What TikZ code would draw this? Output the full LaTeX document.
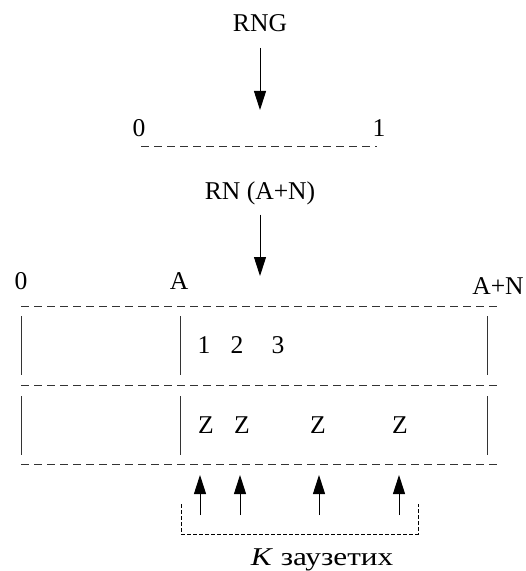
\documentclass[tikz,border=0pt]{standalone}
\usepackage{fontspec}
\setmainfont{Liberation Serif}
\usetikzlibrary{arrows.meta}
\tikzset{
	lbl/.style={font=\fontsize{12.8}{15}\selectfont, anchor=base, inner sep=0.3333em},
	arr/.style={-{Triangle[length=9.5pt,width=6pt]}, line width=0.5pt},
	dline/.style={line width=0.5pt, dash pattern=on 4pt off 2.5pt, black!80},
	bar/.style={line width=0.5pt, black!80},
	brace/.style={line width=0.4pt, dash pattern=on 2pt off 1pt}
}
\begin{document}
\begin{tikzpicture}[x=0.5pt,y=-0.5pt]
	\useasboundingbox (0,0) rectangle (525,571);
	% Zufallszahl zwischen 0 und 1
	\node [lbl] (rng) at (260,32) {RNG};
	\coordinate (hit) at (260,110);
	\draw [arr, shorten <=4.25pt] (rng.south) -- (hit);
	\node [lbl] (null) at (139,137) {0};
	\node [lbl] (eins) at (379,137) {1};
	\draw [dline] (141,147) -- (377,147);
	% Abbildung auf 0 ... A+N
	\node [lbl] (rn) at (260,200) {RN (A+N)};
	\coordinate (hitb) at (260,276);
	\draw [arr, shorten <=1pt] (rn.south) -- (hitb);
	\node [lbl] (nullb) at (21,289) {0};
	\node [lbl] (a) at (179,289) {A};
	\node [lbl] (an) at (498,294) {A+N};
	\foreach \y in {306,385,464}
		\draw [dline] (21,\y) -- (498,\y);
	\foreach \x in {21,180,487} {
		\draw [bar] (\x,316) -- (\x,375);
		\draw [bar] (\x,396) -- (\x,455);
	}
	\node [lbl] (n1) at (204,353) {1};
	\node [lbl] (n2) at (237,353) {2};
	\node [lbl] (n3) at (278,353) {3};
	\node [lbl] (z1) at (206,433) {Z};
	\node [lbl] (z2) at (242,433) {Z};
	\node [lbl] (z3) at (318,433) {Z};
	\node [lbl] (z4) at (400,433) {Z};
	% K Zeiger von unten
	\foreach \i/\x in {1/200,2/240,3/319,4/399} {
		\coordinate (u\i) at (\x,515);
		\coordinate (o\i) at (\x,475);
		\draw [arr] (u\i) -- (o\i);
	}
	\draw [brace] (181,504) |- (418,534) -- (418,504);
	\node [lbl] (k) at (322,565) {\scalebox{1.22}[1]{\textit{K} заузетих}};
\end{tikzpicture}
\end{document}
